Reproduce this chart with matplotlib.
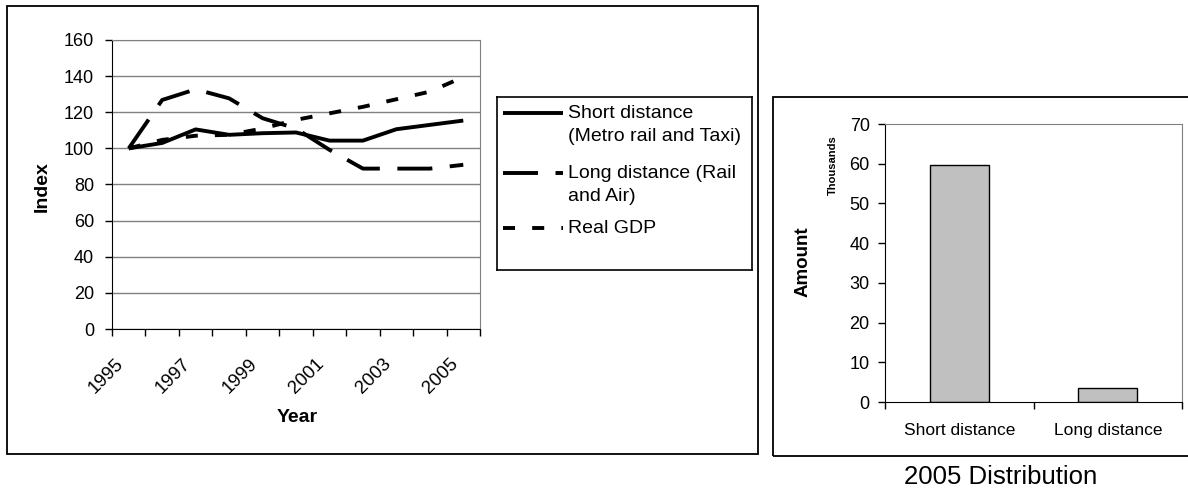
import matplotlib
matplotlib.use("Agg")
import matplotlib.pyplot as plt
from matplotlib.patches import Rectangle
import numpy as np

plt.rcParams['font.family'] = ['Liberation Sans', 'DejaVu Sans']

# data
years = [1995, 1996, 1997, 1998, 1999, 2000, 2001, 2002, 2003, 2004, 2005]
short_dist = [100, 103, 110.5, 107.5, 108.4, 108.8, 104.3, 104.3, 110.6, 113, 115.4]
long_dist = [100, 126.8, 132.7, 127.7, 116.7, 111, 99.2, 88.8, 88.8, 88.8, 90.9]
real_gdp = [100, 104.7, 107, 107.5, 111, 115.8, 119.4, 123, 127.2, 131.4, 139.5]
series_labels = [["Short distance", "(Metro rail and Taxi)"],
                 ["Long distance (Rail", "and Air)"],
                 ["Real GDP"]]

bar_cats = ["Short distance", "Long distance"]
bar_vals = [59.6, 3.4]

W, H = 1188, 494
fig = plt.figure(figsize=(W / 100, H / 100), dpi=100)


def fx(px):
    return px / W


def fy(py):
    return 1 - py / H


# outer frames
fig.add_artist(Rectangle((fx(7), fy(454)), fx(751), 448 / H, fill=False,
                         edgecolor='black', lw=1.3, transform=fig.transFigure))
fig.add_artist(Rectangle((fx(773), fy(456)), fx(430), 359 / H, fill=False,
                         edgecolor='black', lw=1.3, transform=fig.transFigure))

styles = [dict(ls='-'), dict(ls=(0, (9, 4.5))), dict(ls=(0, (3.1, 4.4)))]
lw = 2.8

# line chart
ax = fig.add_axes([fx(112), fy(329), fx(368), 289 / H])
x = np.arange(len(years))
for vals, st in zip([short_dist, long_dist, real_gdp], styles):
    ax.plot(x, vals, color='black', lw=lw, solid_capstyle='butt',
            dash_capstyle='butt', **st)
ax.set_xlim(-0.5, len(years) - 0.5)
ax.set_ylim(0, 160)
ax.set_yticks(range(0, 161, 20))
ax.yaxis.grid(True, color='#808080', lw=1)
ax.set_axisbelow(True)
ax.set_xticks(np.arange(-0.5, len(years), 1))
ax.set_xticklabels([])
# year labels sit a little left of the category centre, like Excel does
ax.set_xticks(x[::2] - 0.42, minor=True)
ax.set_xticklabels([str(y) for y in years[::2]], minor=True, rotation=45,
                   ha='right', rotation_mode='anchor', fontsize=13.5)
ax.tick_params(axis='x', which='minor', length=0, pad=19)
ax.tick_params(axis='x', which='major', length=5, width=1)
ax.tick_params(axis='y', length=5, width=1, labelsize=13, pad=8)
for s in ['top', 'right']:
    ax.spines[s].set_color('#808080')
for s in ['left', 'bottom']:
    ax.spines[s].set_color('black')
fig.text(fx(42), fy(187), "Index", rotation=90, ha='center', va='center',
         fontsize=14, fontweight='bold')
fig.text(fx(297), fy(417), "Year", ha='center', va='center',
         fontsize=14, fontweight='bold')

# legend box drawn by hand so the line sits on the first text line
lax = fig.add_axes([fx(497), fy(270), fx(255), 173 / H])
lax.set_xlim(0, 255)
lax.set_ylim(173, 0)
lax.set_xticks([])
lax.set_yticks([])
for s in lax.spines.values():
    s.set_color('black')
    s.set_linewidth(1.2)
rows = [16, 76, 131]
for ry, st, lines in zip(rows, styles, series_labels):
    lax.plot([6, 66], [ry, ry], color='black', lw=lw, solid_capstyle='butt',
             dash_capstyle='butt', **st)
    for i, t in enumerate(lines):
        lax.text(71, ry + i * 23, t, ha='left', va='center', fontsize=14)

# bar chart
bx = fig.add_axes([fx(885), fy(402), fx(297), 278 / H])
bpos = np.arange(len(bar_cats))
bx.bar(bpos, bar_vals, width=0.4, color='#c0c0c0', edgecolor='black', lw=1)
bx.set_xlim(-0.5, len(bar_cats) - 0.5)
bx.set_ylim(0, 70)
bx.set_yticks(range(0, 71, 10))
bx.set_xticks(np.arange(-0.5, len(bar_cats), 1))
bx.set_xticklabels([])
bx.set_xticks(bpos, minor=True)
bx.set_xticklabels(bar_cats, minor=True, fontsize=12.5)
bx.tick_params(axis='x', which='minor', length=0, pad=15)
bx.tick_params(axis='x', which='major', length=5, width=1)
bx.tick_params(axis='y', length=5, width=1, labelsize=13, pad=6)
for s in ['top', 'right']:
    bx.spines[s].set_color('#808080')
fig.text(fx(803), fy(262), "Amount", rotation=90, ha='center', va='center',
         fontsize=13.5, fontweight='bold')
fig.text(fx(833), fy(165), "Thousands", rotation=90, ha='center', va='center',
         fontsize=8, fontweight='bold')
fig.text(fx(1001), fy(477), "2005 Distribution", ha='center', va='center',
         fontsize=18.5)

fig.savefig("out.png", dpi=100)
